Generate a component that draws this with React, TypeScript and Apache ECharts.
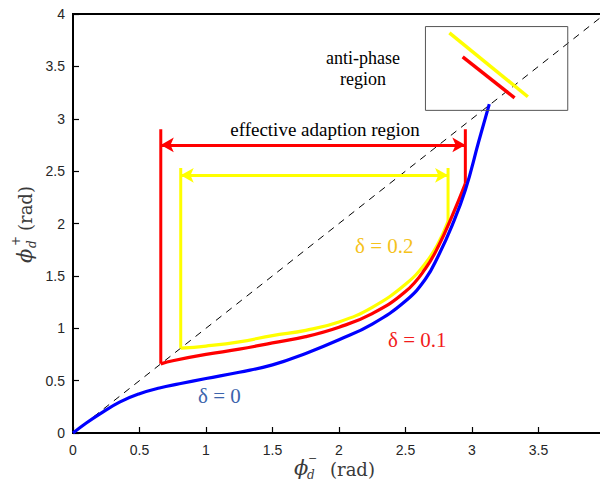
import React, { useEffect, useRef } from "react";
import * as echarts from "echarts";

// δ = 0 (blue)
const blueX = [0, 0.1, 0.2, 0.35, 0.5, 0.65, 0.8, 1.0, 1.25, 1.5, 1.75, 2.0, 2.25, 2.5, 2.65, 2.75, 2.85, 2.95, 3.05, 3.13];
const blueY = [0, 0.095, 0.18, 0.295, 0.375, 0.43, 0.47, 0.52, 0.58, 0.65, 0.76, 0.89, 1.04, 1.26, 1.47, 1.7, 1.98, 2.32, 2.78, 3.14];

// δ = 0.1 (red)
const redX = [0.66, 0.75, 1.0, 1.25, 1.5, 1.75, 2.0, 2.25, 2.5, 2.65, 2.75, 2.85, 2.95];
const redY = [0.66, 0.69, 0.75, 0.8, 0.86, 0.92, 1.01, 1.14, 1.35, 1.57, 1.79, 2.07, 2.38];
const redLeft = [[0.66, 0.66], [0.66, 2.9]];
const redRight = [[2.95, 2.38], [2.95, 2.9]];
const redArrow = { from: [0.66, 2.75], to: [2.95, 2.75] };

// δ = 0.2 (yellow)
const yellowX = [0.81, 1.0, 1.25, 1.5, 1.75, 2.0, 2.25, 2.5, 2.65, 2.75, 2.82];
const yellowY = [0.81, 0.83, 0.87, 0.93, 0.98, 1.06, 1.2, 1.42, 1.62, 1.82, 2.02];
const yellowLeft = [[0.81, 0.81], [0.81, 2.53]];
const yellowRight = [[2.82, 2.02], [2.82, 2.53]];
const yellowArrow = { from: [0.81, 2.46], to: [2.82, 2.46] };

// diagonal reference y = x
const diagonal = [[0, 0], [4, 4]];

// anti-phase inset
const insetBox = [[2.65, 3.08], [2.65, 3.88], [3.72, 3.88], [3.72, 3.08], [2.65, 3.08]];
const insetYellow = [[2.83, 3.82], [3.42, 3.21]];
const insetRed = [[2.93, 3.59], [3.32, 3.2]];

const zip = (xs: number[], ys: number[]) => xs.map((x, i) => [x, ys[i]]);

const RED = "#ff0000";
const YEL = "#ffff00";
const BLU = "#0000ff";
const SERIF = "'Liberation Serif', 'Times New Roman', serif";
const MATH = "'DejaVu Serif', serif";
const LABEL_COLOR = "#3a3a3a";

export default function App() {
  const ref = useRef<HTMLDivElement>(null);
  useEffect(() => {
    if (!ref.current) return;
    const chart = echarts.init(ref.current, undefined, { renderer: "svg" });

    const seg = (data: number[][], color: string, width: number, extra: any = {}) => ({
      type: "line",
      data,
      symbol: "none",
      silent: true,
      lineStyle: { color, width },
      ...extra,
    });

    const arrow = (a: { from: number[]; to: number[] }, color: string) => ({
      type: "line",
      data: [],
      symbol: "none",
      silent: true,
      markLine: {
        silent: true,
        symbol: ["arrow", "arrow"],
        symbolSize: [11, 13],
        label: { show: false },
        lineStyle: { color, width: 3, type: "solid" },
        emphasis: { disabled: true },
        data: [[{ coord: a.from }, { coord: a.to }]],
      },
    });

    const curve = (xs: number[], ys: number[], color: string) =>
      seg(zip(xs, ys), color, 3.2, { smooth: 0.45 });

    const txt = (text: string, x: number, y: number, size: number, fill: string, extra: any = {}) => ({
      type: "text",
      x,
      y,
      silent: true,
      style: {
        text,
        fill,
        fontSize: size,
        fontFamily: SERIF,
        textAlign: "left",
        textVerticalAlign: "middle",
        ...extra,
      },
    });

    chart.setOption({
      animation: false,
      backgroundColor: "#ffffff",
      grid: {
        left: 73,
        top: 14,
        width: 532,
        height: 419,
        outerBoundsMode: "none",
        containLabel: false,
        show: true,
        borderColor: "#000",
        borderWidth: 2,
        backgroundColor: "transparent",
      },
      xAxis: {
        type: "value",
        min: 0,
        max: 4,
        interval: 0.5,
        axisLine: { onZero: false, lineStyle: { color: "#000", width: 2 } },
        axisTick: { inside: true, length: 6, lineStyle: { color: "#000", width: 1.2 } },
        axisLabel: { color: "#262626", fontSize: 14, fontFamily: "'Liberation Sans', Arial, sans-serif", margin: 10 },
        splitLine: { show: false },
      },
      yAxis: {
        type: "value",
        min: 0,
        max: 4,
        interval: 0.5,
        axisLine: { onZero: false, lineStyle: { color: "#000", width: 2 } },
        axisTick: { inside: true, length: 6, lineStyle: { color: "#000", width: 1.2 } },
        axisLabel: { color: "#262626", fontSize: 14, fontFamily: "'Liberation Sans', Arial, sans-serif", margin: 8 },
        splitLine: { show: false },
      },
      series: [
        seg(diagonal, "#000", 1, { lineStyle: { color: "#000", width: 1, type: [7, 6] } }),
        curve(yellowX, yellowY, YEL),
        seg(yellowLeft, YEL, 3),
        seg(yellowRight, YEL, 3),
        arrow(yellowArrow, YEL),
        curve(redX, redY, RED),
        seg(redLeft, RED, 3),
        seg(redRight, RED, 3),
        arrow(redArrow, RED),
        curve(blueX, blueY, BLU),
        seg(insetBox, "#555", 1),
        seg(insetYellow, YEL, 3.5),
        seg(insetRed, RED, 3.5),
      ],
      graphic: [
        txt("effective adaption region", 325, 129, 19, "#000", { textAlign: "center" }),
        txt("anti-phase", 363, 58, 18, "#000", { textAlign: "center" }),
        txt("region", 363, 79, 18, "#000", { textAlign: "center" }),
        txt("δ = 0.2", 355, 246, 21, "#f5c21b"),
        txt("δ = 0.1", 388, 340, 21, "#f21c1c"),
        txt("δ = 0", 198, 396, 21, "#3c64ac"),
        // x-axis name
        txt("ϕ", 294, 468, 21, LABEL_COLOR, { fontStyle: "italic", fontFamily: MATH }),
        txt("−", 308, 458, 11, LABEL_COLOR, { fontFamily: MATH }),
        txt("d", 307, 475, 12, LABEL_COLOR, { fontStyle: "italic", fontFamily: MATH }),
        txt("(rad)", 330, 469, 18, LABEL_COLOR, { fontFamily: MATH }),
        // y-axis name (rotated)
        {
          type: "group",
          x: 25,
          y: 263,
          rotation: Math.PI / 2,
          silent: true,
          children: [
            txt("ϕ", 0, 0, 21, LABEL_COLOR, { fontStyle: "italic", fontFamily: MATH }),
            txt("+", 17, -9, 12, LABEL_COLOR, { fontFamily: MATH }),
            txt("d", 15, 7, 12, LABEL_COLOR, { fontStyle: "italic", fontFamily: MATH }),
            txt("(rad)", 32, 0, 18, LABEL_COLOR, { fontFamily: MATH }),
          ],
        },
      ],
    });
    return () => chart.dispose();
  }, []);
  return (
    <div
      ref={ref}
      style={{ position: "absolute", left: 0, top: 0, width: 600, height: 489, background: "#fff" }}
    />
  );
}
